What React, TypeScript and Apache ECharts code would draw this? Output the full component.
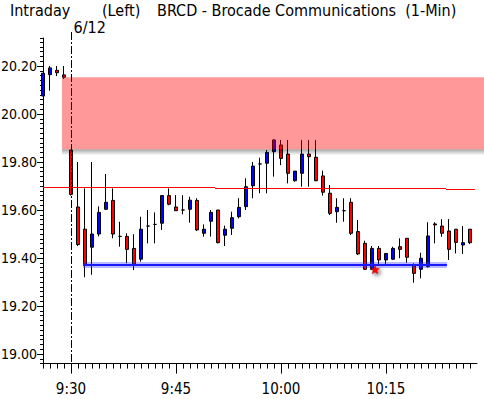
import React, { useEffect, useRef } from "react";
import * as echarts from "echarts";

// ---- categories (1-minute bars; 4 bars from the previous session, then 6/12) ----
const times: string[] = [
  "15:56", "15:57", "15:58", "15:59",
  "9:30", "9:31", "9:32", "9:33", "9:34", "9:35", "9:36", "9:37", "9:38", "9:39",
  "9:40", "9:41", "9:42", "9:43", "9:44", "9:45", "9:46", "9:47", "9:48", "9:49",
  "9:50", "9:51", "9:52", "9:53", "9:54", "9:55", "9:56", "9:57", "9:58", "9:59",
  "10:00", "10:01", "10:02", "10:03", "10:04", "10:05", "10:06", "10:07", "10:08", "10:09",
  "10:10", "10:11", "10:12", "10:13", "10:14", "10:15", "10:16", "10:17", "10:18", "10:19",
  "10:20", "10:21", "10:22", "10:23", "10:24", "10:25", "10:26", "10:27", "",
];
const majorLabels: string[] = ["9:30", "9:45", "10:00", "10:15"];

// ---- OHLC ----
const opens: number[] = [
  20.075, 20.164, 20.182, 20.163, 19.85, 19.6125, 19.52, 19.445, 19.5, 19.603,
  19.64, 19.49, 19.49, 19.44, 19.395, 19.533, 19.54, 19.545, 19.66, 19.6125,
  19.6, 19.603, 19.64, 19.503, 19.553, 19.6, 19.495, 19.524, 19.572, 19.614,
  19.701, 19.792, 19.795, 19.843, 19.871, 19.833, 19.722, 19.753, 19.833, 19.82,
  19.742, 19.67, 19.593, 19.597, 19.632, 19.51, 19.461, 19.353, 19.44, 19.392,
  19.395, 19.447, 19.482, 19.367, 19.353, 19.364, 19.542, 19.533, 19.5125, 19.52,
  19.454, 19.52,
];
const closes: number[] = [
  20.17, 20.192, 20.172, 20.153, 19.665, 19.456, 19.375, 19.5, 19.59, 19.632,
  19.5, 19.49, 19.436, 19.375, 19.52, 19.533, 19.54, 19.66, 19.624, 19.597,
  19.6, 19.641, 19.517, 19.52, 19.59, 19.464, 19.52, 19.568, 19.611, 19.697,
  19.783, 19.792, 19.84, 19.892, 19.815, 19.753, 19.762, 19.833, 19.822, 19.722,
  19.674, 19.586, 19.611, 19.597, 19.503, 19.417, 19.353, 19.44, 19.392, 19.419,
  19.44, 19.436, 19.403, 19.336, 19.399, 19.492, 19.538, 19.503, 19.436, 19.465,
  19.464, 19.464,
];
const lows: number[] = [
  20.075, 20.097, 20.158, 20.146, 19.66, 19.45, 19.32, 19.33, 19.49, 19.6,
  19.482, 19.447, 19.378, 19.35, 19.385, 19.461, 19.461, 19.517, 19.62, 19.597,
  19.582, 19.547, 19.5125, 19.489, 19.489, 19.461, 19.45, 19.496, 19.565, 19.6,
  19.649, 19.67, 19.67, 19.739, 19.787, 19.711, 19.718, 19.697, 19.697, 19.72,
  19.66, 19.579, 19.547, 19.551, 19.496, 19.4125, 19.35, 19.35, 19.373, 19.371,
  19.392, 19.399, 19.38, 19.297, 19.315, 19.36, 19.461, 19.489, 19.392, 19.419,
  19.417, 19.458,
];
const highs: number[] = [
  20.17, 20.2, 20.2, 20.2, 19.85, 19.8, 19.69, 19.8, 19.615, 19.75,
  19.69, 19.551, 19.503, 19.499, 19.572, 19.6, 19.59, 19.66, 19.69, 19.662,
  19.662, 19.655, 19.649, 19.54, 19.6, 19.6, 19.535, 19.593, 19.649, 19.732,
  19.8, 19.818, 19.85, 19.895, 19.892, 19.892, 19.762, 19.892, 19.892, 19.892,
  19.764, 19.704, 19.649, 19.649, 19.649, 19.558, 19.472, 19.45, 19.45, 19.42,
  19.447, 19.482, 19.482, 19.378, 19.422, 19.549, 19.549, 19.562, 19.562, 19.52,
  19.533, 19.52,
];

// ---- overlays (value space; x as bar index) ----
const yMin = 18.96;
const yMax = 20.3167;
const sessionStartIdx = 4; // 6/12 divider
const zoneTop = 20.153;
const zoneBottom = 19.853;
const zoneFromIdx = 2.71;
const zoneToIdx = 63;
const refLineSegs: number[][] = [
  // [fromIdx, toIdx, value]
  [0, 24.57, 19.696],
  [24.57, 57.57, 19.692],
  [57.57, 61.7, 19.6875],
];
const supportLine: number[] = [5.71, 57.7, 19.371]; // fromIdx, toIdx, value
const starMark: number[] = [47.43, 19.35]; // idx, value

const FONT = "'DejaVu Sans Condensed', 'Liberation Sans Narrow', sans-serif";

export default function App() {
  const ref = useRef<HTMLDivElement>(null);
  useEffect(() => {
    if (!ref.current) return;
    const chart = echarts.init(ref.current, null, { renderer: "svg" });
    const ohlc = opens.map((o, i) => [o, closes[i], lows[i], highs[i]]);
    const isMajor = (_i: number, v: string) => majorLabels.indexOf(v) >= 0;
    chart.setOption({
      animation: false,
      backgroundColor: "#ffffff",
      grid: { left: 43, right: 7, top: 38, bottom: 35.4, containLabel: false, outerBoundsMode: "none" },
      xAxis: [
        {
          type: "category",
          data: times,
          boundaryGap: false,
          position: "bottom",
          axisLine: { show: true, lineStyle: { color: "#000", width: 1 } },
          axisTick: {
            show: true,
            length: 5,
            interval: (i: number) => i < times.length - 1,
            lineStyle: { color: "#000" },
          },
          axisLabel: { show: false },
          splitLine: { show: false },
        },
        {
          type: "category",
          data: times,
          boundaryGap: false,
          position: "bottom",
          axisLine: { show: false },
          axisTick: { show: true, length: 10, interval: isMajor, lineStyle: { color: "#000" } },
          axisLabel: {
            show: true,
            interval: isMajor,
            margin: 18,
            color: "#000",
            fontSize: 15,
            fontFamily: FONT,
          },
          splitLine: { show: false },
        },
      ],
      yAxis: [
        {
          type: "value",
          min: yMin,
          max: yMax,
          splitNumber: 7,
          position: "left",
          scale: true,
          axisLine: { show: true, lineStyle: { color: "#000" } },
          axisTick: { show: true, length: 6, lineStyle: { color: "#000" } },
          axisLabel: {
            showMinLabel: false,
            showMaxLabel: false,
            formatter: (v: number) => v.toFixed(2),
            margin: 6,
            color: "#000",
            fontSize: 14,
            fontFamily: FONT,
          },
          splitLine: { show: false },
        },
        {
          type: "value",
          min: yMin,
          max: yMax,
          interval: 0.02,
          position: "left",
          scale: true,
          axisLine: { show: false },
          axisTick: { show: true, length: 3, lineStyle: { color: "#000" } },
          axisLabel: { show: false },
          splitLine: { show: false },
        },
      ],
      series: [
        {
          type: "candlestick",
          data: ohlc,
          barWidth: 4,
          itemStyle: {
            color: "#0000ff",
            color0: "#ff0000",
            borderColor: "#000000",
            borderColor0: "#000000",
            borderWidth: 1,
          },
        },
      ],
    });

    const p0 = chart.convertToPixel({ xAxisIndex: 0 }, 0) as number;
    const p1 = chart.convertToPixel({ xAxisIndex: 0 }, 1) as number;
    const px = (i: number) => p0 + (p1 - p0) * i;
    const py = (v: number) => chart.convertToPixel({ yAxisIndex: 0 }, v) as number;
    const yBottom = py(yMin);

    const graphics: any[] = [];
    // pink zone
    const zx = px(zoneFromIdx);
    const zw = px(zoneToIdx) - zx;
    const zy1 = py(zoneTop);
    const zy2 = py(zoneBottom);
    graphics.push({
      type: "rect",
      z: 9,
      shape: { x: zx, y: zy2, width: zw, height: 6 },
      style: {
        fill: new echarts.graphic.LinearGradient(0, 0, 0, 1, [
          { offset: 0, color: "rgba(0,0,0,0.35)" },
          { offset: 1, color: "rgba(0,0,0,0)" },
        ]),
      },
    });
    graphics.push({
      type: "rect",
      z: 10,
      shape: { x: zx, y: zy1, width: zw, height: zy2 - zy1 },
      style: { fill: "rgba(255,0,0,0.4)" },
    });
    // reference red line
    refLineSegs.forEach((s) => {
      graphics.push({
        type: "line",
        z: 11,
        shape: { x1: px(s[0]), y1: Math.round(py(s[2])) + 0.5, x2: px(s[1]), y2: Math.round(py(s[2])) + 0.5 },
        style: { stroke: "#ff0000", lineWidth: 1 },
      });
    });
    // support blue line (glow + core)
    const sy = Math.round(py(supportLine[2]));
    graphics.push({
      type: "line",
      z: 11,
      shape: { x1: px(supportLine[0]), y1: sy, x2: px(supportLine[1]), y2: sy },
      style: { stroke: "rgba(60,60,255,0.35)", lineWidth: 6 },
    });
    graphics.push({
      type: "line",
      z: 12,
      shape: { x1: px(supportLine[0]), y1: sy, x2: px(supportLine[1]), y2: sy },
      style: { stroke: "#1a1aff", lineWidth: 2 },
    });
    // session divider
    const dx = Math.round(px(sessionStartIdx)) + 0.5;
    graphics.push({
      type: "line",
      z: 12,
      shape: { x1: dx, y1: 32, x2: dx, y2: yBottom },
      style: { stroke: "#000", lineWidth: 1, lineDash: [8, 2, 2, 2] },
    });
    // red star
    const cx = px(starMark[0]);
    const cy = py(starMark[1]);
    const pts: number[][] = [];
    for (let k = 0; k < 10; k++) {
      const r = k % 2 === 0 ? 4.5 : 2;
      const a = -Math.PI / 2 + (k * Math.PI) / 5;
      pts.push([cx + r * Math.cos(a), cy + r * Math.sin(a)]);
    }
    graphics.push({
      type: "polygon",
      z: 13,
      shape: { points: pts },
      style: { fill: "#ff0000", stroke: "#b00000", lineWidth: 0.5, shadowBlur: 4, shadowColor: "rgba(0,0,0,0.6)", shadowOffsetX: 2, shadowOffsetY: 2 },
    });
    // titles
    const titleStyle = { fill: "#000", fontSize: 16, fontFamily: FONT };
    graphics.push({ type: "text", z: 20, x: 10, y: 2, style: { ...titleStyle, text: "Intraday" } });
    graphics.push({ type: "text", z: 20, x: 102, y: 2, style: { ...titleStyle, text: "(Left)" } });
    graphics.push({ type: "text", z: 20, x: 157, y: 2, style: { ...titleStyle, text: "BRCD - Brocade Communications  (1-Min)" } });
    graphics.push({ type: "text", z: 20, x: dx + 2, y: 19, style: { ...titleStyle, text: "6/12" } });

    chart.setOption({ graphic: graphics });
    return () => chart.dispose();
  }, []);
  return <div ref={ref} style={{ width: 484, height: 399, position: "absolute", left: 0, top: 0 }} />;
}
